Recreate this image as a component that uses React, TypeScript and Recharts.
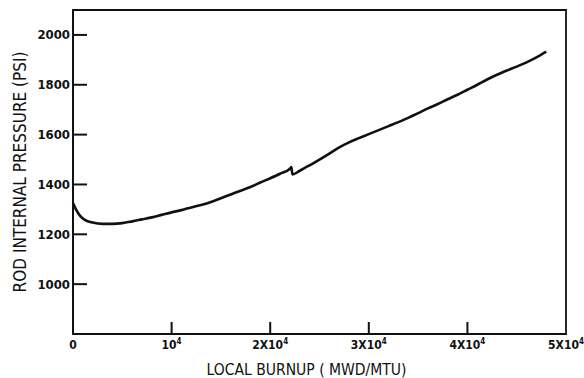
import { Line, LineChart, ReferenceArea, XAxis, YAxis } from "recharts";

// local burnup (MWD/MTU) and rod internal pressure (psi)
const burnup = [
  0, 300, 700, 1200, 2000, 3000, 4000, 5000, 6000, 7000, 8000, 9000, 10000, 11000, 12000,
  13000, 14000, 15000, 16000, 17000, 18000, 19000, 20000, 21000, 22000, 22150, 22250, 23000,
  24000, 25000, 26000, 27000, 28000, 29000, 30000, 31000, 32000, 33000, 34000, 35000, 36000,
  37000, 38000, 39000, 40000, 41000, 42000, 43000, 44000, 45000, 46000, 47000, 48000,
];
const pressure = [
  1325, 1300, 1275, 1258, 1247, 1242, 1242, 1245, 1252, 1260, 1268, 1278, 1288, 1297, 1308,
  1318, 1330, 1345, 1360, 1375, 1390, 1408, 1425, 1443, 1463, 1470, 1440, 1455,
  1477, 1500, 1524, 1549, 1569, 1586, 1602, 1618, 1634, 1650, 1667, 1686, 1705,
  1723, 1742, 1760, 1780, 1800, 1821, 1840, 1857, 1873, 1890, 1910, 1933,
];

const xTicks = [0, 10000, 20000, 30000, 40000, 50000];
const xTickLabels = ["0", "10", "2X10", "3X10", "4X10", "5X10"];
const yTicks = [1000, 1200, 1400, 1600, 1800, 2000];
const xDomain = [0, 50000];
const yDomain = [800, 2100];

const INK = "#111";
const FONT = "'Liberation Sans Narrow', 'DejaVu Sans Condensed', 'Liberation Sans', sans-serif";

const data = burnup.map((b, i) => ({ burnup: b, pressure: pressure[i] }));

function PressureTick(props: any) {
  const { x, y, payload } = props;
  return (
    <g>
      <line x1={x + 3} x2={x + 17} y1={y} y2={y} stroke={INK} strokeWidth={2} />
      <text x={x} y={y} dy={4.5} textAnchor="end" fill={INK} fontFamily={FONT} fontWeight="bold" fontSize={13}>
        {payload.value}
      </text>
    </g>
  );
}

function BurnupTick(props: any) {
  const { x, y, payload, index } = props;
  const label = xTickLabels[index];
  const inner = payload.value > 0 && payload.value < 50000;
  return (
    <g>
      {inner && <line x1={x} x2={x} y1={y} y2={y - 12} stroke={INK} strokeWidth={2} />}
      <text x={x} y={y + 15} textAnchor="middle" fill={INK} fontFamily={FONT} fontWeight="bold" fontSize={12}>
        {label}
        {payload.value > 0 && (
          <tspan dy={-5} fontSize={8}>
            4
          </tspan>
        )}
      </text>
    </g>
  );
}

export default function App() {
  return (
    <div style={{ position: "absolute", left: 0, top: 0, background: "#fff" }}>
      <LineChart width={584} height={378} data={data} margin={{ top: 10, right: 18, bottom: 0, left: 0 }}>
        <XAxis
          dataKey="burnup"
          type="number"
          domain={xDomain}
          ticks={xTicks}
          interval={0}
          height={44}
          tickSize={0}
          tickMargin={0}
          tickLine={false}
          tick={<BurnupTick />}
          axisLine={{ stroke: INK, strokeWidth: 2 }}
          label={{
            content: ({ viewBox }: any) => (
              <text
                x={viewBox.x + viewBox.width / 2 - 13}
                y={viewBox.y + 41}
                textAnchor="middle"
                fill={INK}
                fontFamily={FONT}
                fontSize={15.5}
              >
                LOCAL BURNUP ( MWD/MTU)
              </text>
            ),
          }}
        />
        <YAxis
          type="number"
          domain={yDomain}
          ticks={yTicks}
          interval={0}
          width={73}
          tickSize={0}
          tickMargin={3}
          tickLine={false}
          tick={<PressureTick />}
          axisLine={{ stroke: INK, strokeWidth: 2 }}
          label={{
            content: ({ viewBox }: any) => {
              const cx = viewBox.x + 26;
              const cy = viewBox.y + viewBox.height / 2;
              return (
                <text
                  x={cx}
                  y={cy}
                  transform={`rotate(-90 ${cx} ${cy})`}
                  textAnchor="middle"
                  fill={INK}
                  fontFamily={FONT}
                  fontSize={17}
                >
                  ROD INTERNAL PRESSURE (PSI)
                </text>
              );
            },
          }}
        />
        {/* frame around the plot: top and right edges */}
        <ReferenceArea
          x1={xDomain[0]}
          x2={xDomain[1]}
          y1={yDomain[0]}
          y2={yDomain[1]}
          fill="none"
          stroke={INK}
          strokeWidth={1.8}
          ifOverflow="visible"
        />
        <Line
          dataKey="pressure"
          type="monotone"
          stroke={INK}
          strokeWidth={2.6}
          dot={false}
          isAnimationActive={false}
        />
      </LineChart>
    </div>
  );
}
